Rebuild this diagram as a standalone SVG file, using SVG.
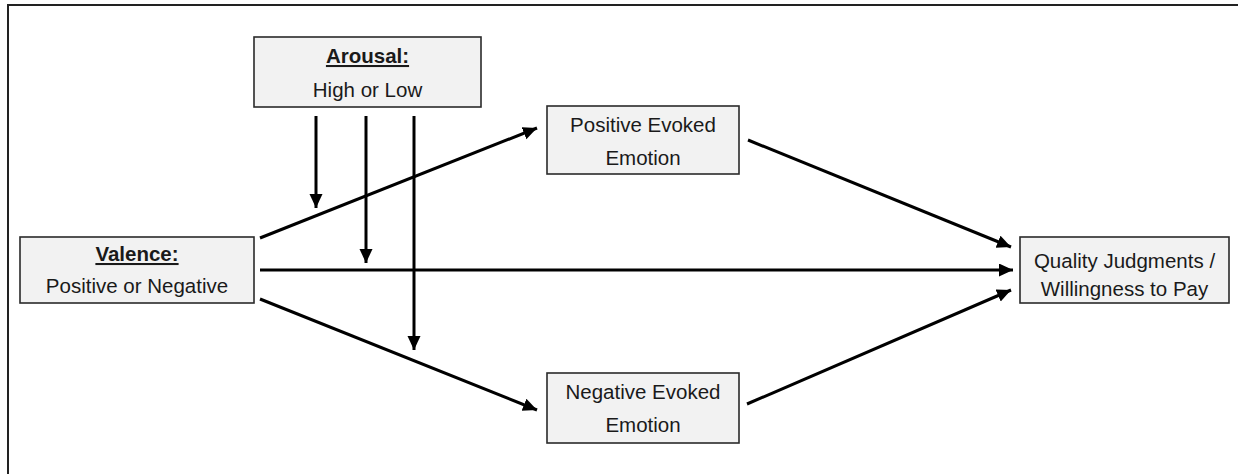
<svg xmlns="http://www.w3.org/2000/svg" width="1238" height="474" viewBox="0 0 1238 474">
<defs>
<marker id="ah" markerUnits="userSpaceOnUse" markerWidth="15" markerHeight="14" refX="14" refY="6.5" orient="auto">
<path d="M0,0 L14,6.5 L0,13 z" fill="#000"/>
</marker>
<style>
.box{fill:#f2f2f2;stroke:#2a2a2a;stroke-width:1.6}
.t{font-family:"Liberation Sans",Arial,sans-serif;font-size:20.5px;fill:#1a1a1a;text-anchor:middle}
.b{font-weight:bold;text-decoration:underline}
.c{stroke:#000;stroke-width:3;fill:none;marker-end:url(#ah)}
</style>
</defs>
<rect width="1238" height="474" fill="#fff"/>
<path d="M8,474 V5 H1238" fill="none" stroke="#222" stroke-width="2"/>
<g id="connectors">
<line class="c" x1="316" y1="116" x2="316" y2="208"/>
<line class="c" x1="366" y1="116" x2="366" y2="263"/>
<line class="c" x1="414" y1="116" x2="414" y2="350"/>
<line class="c" x1="260" y1="238" x2="537" y2="128"/>
<line class="c" x1="260" y1="270" x2="1013" y2="270"/>
<line class="c" x1="260" y1="299" x2="537" y2="410"/>
<line class="c" x1="748" y1="140" x2="1011" y2="247"/>
<line class="c" x1="747" y1="404" x2="1011" y2="290"/>
</g>
<g id="arousal">
<rect class="box" x="254" y="37" width="227" height="70"/>
<text class="t b" x="367.5" y="63">Arousal:</text>
<text class="t" x="367.5" y="97">High or Low</text>
</g>
<g id="valence">
<rect class="box" x="20" y="237" width="234" height="66"/>
<text class="t b" x="137" y="261">Valence:</text>
<text class="t" x="137" y="293">Positive or Negative</text>
</g>
<g id="positive">
<rect class="box" x="547" y="106" width="192" height="68"/>
<text class="t" x="643" y="132">Positive Evoked</text>
<text class="t" x="643" y="165">Emotion</text>
</g>
<g id="negative">
<rect class="box" x="547" y="373" width="192" height="70"/>
<text class="t" x="643" y="399">Negative Evoked</text>
<text class="t" x="643" y="432">Emotion</text>
</g>
<g id="quality">
<rect class="box" x="1020" y="237" width="209" height="66"/>
<text class="t" x="1124.5" y="268">Quality Judgments /</text>
<text class="t" x="1124.5" y="296">Willingness to Pay</text>
</g>
</svg>
